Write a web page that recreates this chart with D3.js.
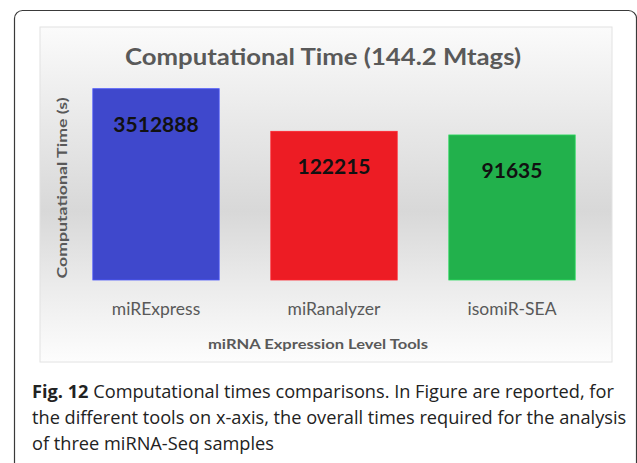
<!DOCTYPE html>
<html lang="en">
<head>
    <meta charset="UTF-8">
    <title>Computational Time</title>
    <script src="https://d3js.org/d3.v7.min.js"></script>
    <style>
        body { margin: 0; background: #fff; }
    </style>
</head>
<body>
    <div id="chart-container"></div>

    <script>
        // data
        const tools = ["miRExpress", "miRanalyzer", "isomiR-SEA"];
        const times = [3512888, 122215, 91635];
        const barColors = ["#3f48cc", "#ed1c24", "#22b14c"];
        const chartTitle = "Computational Time (144.2 Mtags)";
        const yTitle = "Computational  Time (s)";
        const xTitle = "miRNA Expression  Level Tools";
        const captionLines = [
            ["Fig. 12", " Computational times comparisons. In Figure are reported, for"],
            ["", "the different tools on x-axis, the overall times required for the analysis"],
            ["", "of three miRNA-Seq samples"]
        ];

        const W = 637, H = 463;

        const svg = d3.select("#chart-container")
            .append("svg")
            .attr("width", W)
            .attr("height", H);

        // outer frame (runs off the right/bottom edge)
        svg.append("rect")
            .attr("x", 14.5).attr("y", 10.5)
            .attr("width", 622).attr("height", 480)
            .attr("rx", 8)
            .attr("fill", "none")
            .attr("stroke", "#3a3a3a")
            .attr("stroke-width", 1.2);

        // panel gradient
        const grad = svg.append("defs").append("linearGradient")
            .attr("id", "bg").attr("x1", 0).attr("y1", 0).attr("x2", 0).attr("y2", 1);
        [[0, "#fbfbfb"], [0.15, "#f1f1f1"], [0.55, "#d8d8d8"], [0.78, "#ececec"], [1, "#fdfdfd"]]
            .forEach(function(s) {
                grad.append("stop").attr("offset", s[0]).attr("stop-color", s[1]);
            });

        svg.append("rect")
            .attr("x", 40).attr("y", 27)
            .attr("width", 572).attr("height", 335)
            .attr("fill", "url(#bg)")
            .attr("stroke", "#e2e2e2");

        // scales
        const x = d3.scaleBand()
            .domain(tools)
            .range([67, 601])
            .paddingInner(0.29)
            .paddingOuter(0.145);

        // bar heights follow a log axis starting at 1
        const y = d3.scaleLog()
            .domain([1, 1e7])
            .range([280, 75.4]);

        // bars
        svg.selectAll(".bar")
            .data(tools)
            .enter().append("rect")
            .attr("class", "bar")
            .attr("x", function(d) { return x(d); })
            .attr("width", x.bandwidth())
            .attr("y", function(d, i) { return y(times[i]); })
            .attr("height", function(d, i) { return y(1) - y(times[i]); })
            .attr("fill", function(d, i) { return barColors[i]; })
            .attr("stroke", function(d, i) { return d3.color(barColors[i]).brighter(0.6); })
            .attr("stroke-width", 0.8);

        // value labels
        svg.selectAll(".val")
            .data(tools)
            .enter().append("text")
            .attr("class", "val")
            .attr("x", function(d) { return x(d) + x.bandwidth() / 2; })
            .attr("y", function(d, i) { return y(times[i]) + 43; })
            .attr("text-anchor", "middle")
            .style("font-family", "Lato, sans-serif")
            .style("font-weight", "bold")
            .style("font-size", "21px")
            .attr("fill", "#111")
            .text(function(d, i) { return times[i]; });

        // x axis (labels only)
        const xAxis = svg.append("g")
            .attr("transform", "translate(0," + y(1) + ")")
            .call(d3.axisBottom(x).tickSize(0).tickPadding(23));
        xAxis.select(".domain").remove();
        xAxis.selectAll("text")
            .style("font-family", "Lato, sans-serif")
            .style("font-size", "17.5px")
            .attr("fill", "#595959");

        // title
        svg.append("text")
            .attr("x", 323).attr("y", 65)
            .attr("text-anchor", "middle")
            .attr("textLength", 396)
            .attr("lengthAdjust", "spacingAndGlyphs")
            .style("font-family", "Lato, sans-serif")
            .style("font-weight", "bold")
            .style("font-size", "23px")
            .attr("fill", "#595959")
            .text(chartTitle);

        // y title
        svg.append("text")
            .attr("transform", "translate(67,188) rotate(-90)")
            .attr("text-anchor", "middle")
            .attr("textLength", 181)
            .attr("lengthAdjust", "spacingAndGlyphs")
            .style("font-family", "Lato, sans-serif")
            .style("font-weight", "bold")
            .style("font-size", "14px")
            .attr("fill", "#595959")
            .text(yTitle);

        // x title
        svg.append("text")
            .attr("x", 318).attr("y", 349)
            .attr("text-anchor", "middle")
            .attr("textLength", 220)
            .attr("lengthAdjust", "spacingAndGlyphs")
            .style("font-family", "Lato, sans-serif")
            .style("font-weight", "bold")
            .style("font-size", "14px")
            .attr("fill", "#595959")
            .text(xTitle);

        // caption
        const cap = svg.append("g");
        captionLines.forEach(function(line, i) {
            const t = cap.append("text")
                .attr("x", 32)
                .attr("y", 398 + i * 26)
                .style("font-family", "'Open Sans', sans-serif")
                .style("font-size", "18.2px")
                .attr("fill", "#222");
            if (line[0]) {
                t.append("tspan").style("font-weight", "bold").text(line[0]);
            }
            t.append("tspan").text(line[1]);
        });
    </script>
</body>
</html>
